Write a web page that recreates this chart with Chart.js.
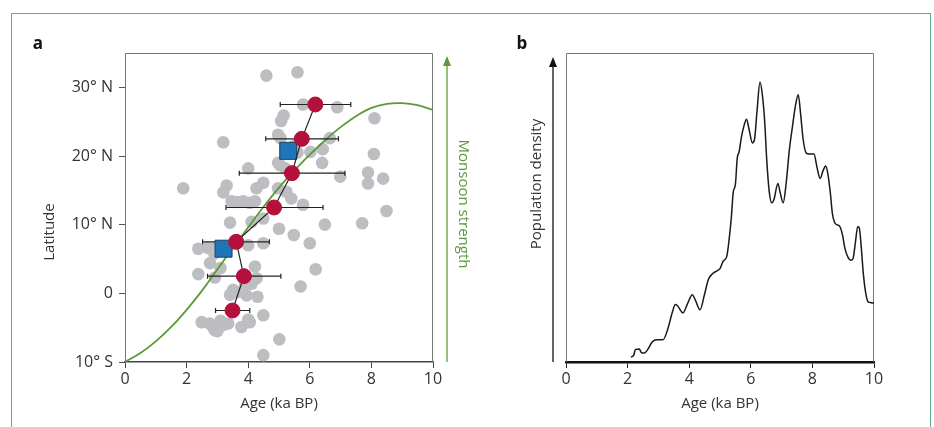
<!DOCTYPE html>
<html>
<head>
<meta charset="utf-8">
<script src="https://cdn.jsdelivr.net/npm/chart.js@4.4.0/dist/chart.umd.min.js"></script>
<style>
  body { margin: 0; background: #fff; width: 934px; height: 427px; overflow: hidden; position: relative; font-family: 'Open Sans', sans-serif; }
  canvas { position: absolute; top: 0; }
  #frame { position: absolute; left: 11px; top: 13px; width: 920px; height: 430px; border: 1.5px solid #63a98f; box-sizing: border-box; }
  .panel { position: absolute; font-weight: bold; font-size: 17px; color: #111; transform: translate(-50%, -50%); }
  .vlabel { position: absolute; white-space: nowrap; font-size: 15px; color: #333; transform: translate(-50%, -50%) rotate(-90deg); }
  .vlabel.down { transform: translate(-50%, -50%) rotate(90deg); color: #5b9a3a; }
</style>
</head>
<body>
<div id="frame"></div>
<canvas id="chartA" width="500" height="427" style="left:0px"></canvas>
<canvas id="chartB" width="434" height="427" style="left:500px"></canvas>
<div class="panel" style="left:38px; top:42px">a</div>
<div class="panel" style="left:522px; top:42px">b</div>
<div class="vlabel" style="left:48px; top:232px">Latitude</div>
<div class="vlabel down" style="left:465px; top:204px">Monsoon strength</div>
<div class="vlabel" style="left:535px; top:184px">Population density</div>
<script>
// panel a: site scatter (age in ka BP, latitude in degrees, S negative)
const greyAge = [4.59, 5.6, 5.78, 6.89, 8.1, 5.15, 5.07, 3.19, 4.97, 5.05, 6.65, 6.42, 6.02, 5.5, 5.6, 6.4, 8.08,
  5.03, 4.97, 5.2, 4.0, 6.99, 7.89, 7.89, 8.38, 8.49, 7.7, 6.49, 5.78, 5.24, 5.4, 4.97, 4.49, 4.27, 3.3, 3.19,
  1.89, 3.46, 3.65, 3.84, 4.05, 4.22, 3.41, 4.11, 4.49, 5.0, 5.48, 6.0, 4.49, 4.0, 2.38, 2.7, 2.9, 3.0, 2.76,
  3.1, 2.38, 2.92, 4.22, 4.27, 4.11, 3.9, 6.19, 5.7, 3.41, 3.51, 3.65, 3.95, 4.3, 4.49, 4.0, 3.78, 4.05, 2.49,
  2.75, 2.85, 3.0, 3.1, 3.2, 3.35, 2.92, 5.01, 4.49];
const greyLat = [31.7, 32.2, 27.5, 27.1, 25.5, 25.9, 25.1, 22.0, 23.1, 22.6, 22.6, 21.0, 20.6, 21.5, 20.5, 19.0, 20.3,
  18.7, 19.0, 18.2, 18.2, 17.0, 17.6, 16.0, 16.7, 12.0, 10.2, 10.0, 12.9, 14.8, 13.8, 15.3, 16.1, 15.3, 15.7, 14.7,
  15.3, 13.4, 13.3, 13.4, 13.2, 13.4, 10.3, 10.4, 10.9, 9.4, 8.5, 7.3, 7.3, 7.0, 6.5, 6.6, 5.8, 6.8, 4.4,
  3.7, 2.8, 2.3, 3.9, 2.2, 1.4, 1.2, 3.5, 1.0, -0.2, 0.5, 0.2, -0.3, -0.5, -3.2, -3.8, -4.9, -4.2, -4.2,
  -4.4, -4.9, -5.5, -4.0, -4.6, -4.4, -5.4, -6.7, -9.0];

const redAge = [6.18, 5.74, 5.42, 4.84, 3.61, 3.86, 3.49];
const redLat = [27.5, 22.5, 17.5, 12.5, 7.5, 2.5, -2.5];
const redAgeLow = [5.04, 4.57, 3.71, 3.28, 2.52, 2.68, 2.94];
const redAgeHigh = [7.33, 6.93, 7.14, 6.43, 4.69, 5.06, 4.05];

const squareAge = [5.30, 3.20];
const squareLat = [20.75, 6.5];

const monsoonAge = [0, 0.5, 1, 1.5, 2, 2.5, 3, 3.5, 4, 4.5, 5, 5.5, 6, 6.5, 7, 7.5, 8, 8.5, 9, 9.5, 10];
const monsoonLat = [-10, -8.7, -7.0, -4.9, -2.4, 0.4, 3.5, 6.6, 9.6, 12.6, 15.4, 17.9, 20.2, 22.3, 24.2, 25.8, 27.0, 27.6, 27.7, 27.4, 26.7];

const latTicks = [-10, 0, 10, 20, 30];
const latTickLabels = ['10° S', '0', '10° N', '20° N', '30° N'];
const ageTicks = [0, 2, 4, 6, 8, 10];

// panel b: population density (arbitrary units, 0-100)
const densityAge = [2.11, 2.2, 2.25, 2.38, 2.45, 2.55, 2.65, 2.8, 2.95, 3.15, 3.3, 3.45, 3.55, 3.62, 3.8, 3.95, 4.1,
  4.2, 4.35, 4.5, 4.62, 4.75, 4.9, 5.0, 5.1, 5.22, 5.3, 5.37, 5.43, 5.5, 5.56, 5.62, 5.7, 5.78, 5.86, 5.95, 6.05,
  6.12, 6.2, 6.3, 6.38, 6.45, 6.52, 6.6, 6.68, 6.75, 6.88, 6.95, 7.05, 7.15, 7.25, 7.35, 7.45, 7.54, 7.62, 7.7,
  7.8, 7.9, 8.05, 8.15, 8.25, 8.35, 8.43, 8.5, 8.58, 8.65, 8.75, 8.88, 8.98, 9.05, 9.15, 9.25, 9.32, 9.4, 9.47,
  9.52, 9.58, 9.65, 9.72, 9.8, 9.9, 10];
const density = [1.6, 2.2, 4.0, 4.2, 3.0, 2.9, 4.0, 6.5, 7.2, 7.2, 10.5, 16, 18.6, 18.2, 15.9, 19, 21.8,
  20, 16.9, 22, 26.6, 28.5, 29.5, 30.2, 32.6, 34.2, 40, 47, 55, 57.5, 66, 68, 73, 76.5, 78.6, 75, 70.9,
  72, 81, 90.6, 86, 78, 65, 55, 51.5, 52.5, 57.8, 55, 51.5, 58, 68.5, 76, 83, 86.5, 80, 72,
  67.6, 67.3, 67.3, 63, 59.4, 62, 63.4, 61, 55, 48, 44.7, 44, 41, 37, 34, 32.9, 33.5, 39, 43.8,
  43.5, 38, 29, 23, 19.6, 19.2, 19.1];

Chart.defaults.font.family = "'Open Sans', sans-serif";
Chart.defaults.color = '#333';

const toXY = (xs, ys) => xs.map((x, i) => ({ x: x, y: ys[i] }));

// frame round the plot area (top, right, left); bottom is the x axis border
const boxPlugin = {
    id: 'box',
    beforeDatasetsDraw(chart) {
        const { ctx, chartArea: a } = chart;
        ctx.save();
        ctx.strokeStyle = '#777';
        ctx.lineWidth = 1;
        ctx.beginPath();
        ctx.moveTo(a.left + 0.5, a.bottom);
        ctx.lineTo(a.left + 0.5, a.top + 0.5);
        ctx.lineTo(a.right - 0.5, a.top + 0.5);
        ctx.lineTo(a.right - 0.5, a.bottom);
        ctx.stroke();
        ctx.restore();
    }
};

function drawArrow(ctx, x, yBottom, yTop, color) {
    ctx.save();
    ctx.strokeStyle = color;
    ctx.fillStyle = color;
    ctx.lineWidth = 1.3;
    ctx.beginPath();
    ctx.moveTo(x, yBottom);
    ctx.lineTo(x, yTop + 6);
    ctx.stroke();
    ctx.beginPath();
    ctx.moveTo(x, yTop);
    ctx.lineTo(x - 4, yTop + 10);
    ctx.lineTo(x + 4, yTop + 10);
    ctx.closePath();
    ctx.fill();
    ctx.restore();
}

const errorBarPlugin = {
    id: 'errorBars',
    afterDatasetDraw(chart, args) {
        if (chart.data.datasets[args.index].label !== 'Monsoon') return;
        const { ctx, scales: { x, y } } = chart;
        ctx.save();
        ctx.strokeStyle = '#222';
        ctx.lineWidth = 1.2;
        redAge.forEach((_, i) => {
            const x0 = x.getPixelForValue(redAgeLow[i]);
            const x1 = x.getPixelForValue(redAgeHigh[i]);
            const py = y.getPixelForValue(redLat[i]);
            ctx.beginPath();
            ctx.moveTo(x0, py); ctx.lineTo(x1, py);
            ctx.moveTo(x0, py - 2.5); ctx.lineTo(x0, py + 2.5);
            ctx.moveTo(x1, py - 2.5); ctx.lineTo(x1, py + 2.5);
            ctx.stroke();
        });
        ctx.restore();
    },
    afterDraw(chart) {
        const a = chart.chartArea;
        drawArrow(chart.ctx, a.right + 14, a.bottom, a.top + 3, '#5b9a3a');
    }
};

const arrowB = {
    id: 'arrowB',
    afterDraw(chart) {
        const a = chart.chartArea;
        drawArrow(chart.ctx, a.left - 13, a.bottom, a.top + 4, '#111');
    }
};

new Chart(document.getElementById('chartA'), {
    type: 'scatter',
    data: {
        datasets: [
            {
                label: 'Mean',
                data: toXY(redAge, redLat),
                backgroundColor: '#b5103c',
                borderColor: '#b5103c',
                pointRadius: 7.5,
                order: 1
            },
            {
                label: 'Link',
                data: toXY(redAge, redLat),
                showLine: true,
                borderColor: '#222',
                borderWidth: 1.2,
                pointRadius: 0,
                order: 2
            },
            {
                label: 'Square',
                data: toXY(squareAge, squareLat),
                pointStyle: 'rect',
                pointRadius: 12,
                backgroundColor: '#1f75b8',
                borderColor: '#1d3f63',
                borderWidth: 1,
                order: 3
            },
            {
                label: 'Monsoon',
                data: toXY(monsoonAge, monsoonLat),
                showLine: true,
                borderColor: '#5b9a3a',
                borderWidth: 1.8,
                pointRadius: 0,
                tension: 0.4,
                order: 4
            },
            {
                label: 'Sites',
                data: toXY(greyAge, greyLat),
                backgroundColor: '#bdbec1',
                borderWidth: 0,
                pointRadius: 6.3,
                order: 5
            }
        ]
    },
    options: {
        responsive: false,
        animation: false,
        devicePixelRatio: 1,
        layout: { padding: { left: 0, top: 53, right: 67, bottom: 0 } },
        plugins: { legend: { display: false }, tooltip: { enabled: false } },
        scales: {
            x: {
                type: 'linear',
                min: 0,
                max: 10,
                afterBuildTicks: (scale) => { scale.ticks = ageTicks.map(v => ({ value: v })); },
                afterFit: (scale) => { scale.height = 65; },
                ticks: { font: { size: 16 }, padding: 2, color: '#333' },
                grid: { drawOnChartArea: false, drawTicks: true, tickLength: 6, color: '#444' },
                border: { display: true, color: '#444', width: 1.5 },
                title: { display: true, text: 'Age (ka BP)', font: { size: 15 }, padding: { top: 0, bottom: 14 }, color: '#333' }
            },
            y: {
                type: 'linear',
                min: -10,
                max: 35,
                afterBuildTicks: (scale) => { scale.ticks = latTicks.map(v => ({ value: v })); },
                afterFit: (scale) => { scale.width = 125; },
                ticks: {
                    font: { size: 16 },
                    padding: 6,
                    color: '#333',
                    callback: (value) => latTickLabels[latTicks.indexOf(value)]
                },
                grid: { drawOnChartArea: false, drawTicks: true, tickLength: 6, color: '#555' },
                border: { display: true, color: '#777', width: 1 }
            }
        }
    },
    plugins: [boxPlugin, errorBarPlugin]
});

new Chart(document.getElementById('chartB'), {
    type: 'scatter',
    data: {
        datasets: [
            {
                label: 'Population density',
                data: toXY(densityAge, density),
                showLine: true,
                borderColor: '#1a1a1a',
                borderWidth: 1.5,
                pointRadius: 0,
                cubicInterpolationMode: 'monotone'
            }
        ]
    },
    options: {
        responsive: false,
        animation: false,
        devicePixelRatio: 1,
        layout: { padding: { left: 0, top: 53, right: 60, bottom: 0 } },
        plugins: { legend: { display: false }, tooltip: { enabled: false } },
        scales: {
            x: {
                type: 'linear',
                min: 0,
                max: 10,
                afterBuildTicks: (scale) => { scale.ticks = ageTicks.map(v => ({ value: v })); },
                afterFit: (scale) => { scale.height = 65; },
                ticks: { font: { size: 16 }, padding: 2, color: '#333' },
                grid: { drawOnChartArea: false, drawTicks: true, tickLength: 6, color: '#222' },
                border: { display: true, color: '#111', width: 2.5 },
                title: { display: true, text: 'Age (ka BP)', font: { size: 15 }, padding: { top: 0, bottom: 14 }, color: '#333' }
            },
            y: {
                type: 'linear',
                min: 0,
                max: 100,
                afterFit: (scale) => { scale.width = 66; },
                ticks: { display: false },
                grid: { display: false },
                border: { display: false }
            }
        }
    },
    plugins: [boxPlugin, arrowB]
});
</script>
</body>
</html>
